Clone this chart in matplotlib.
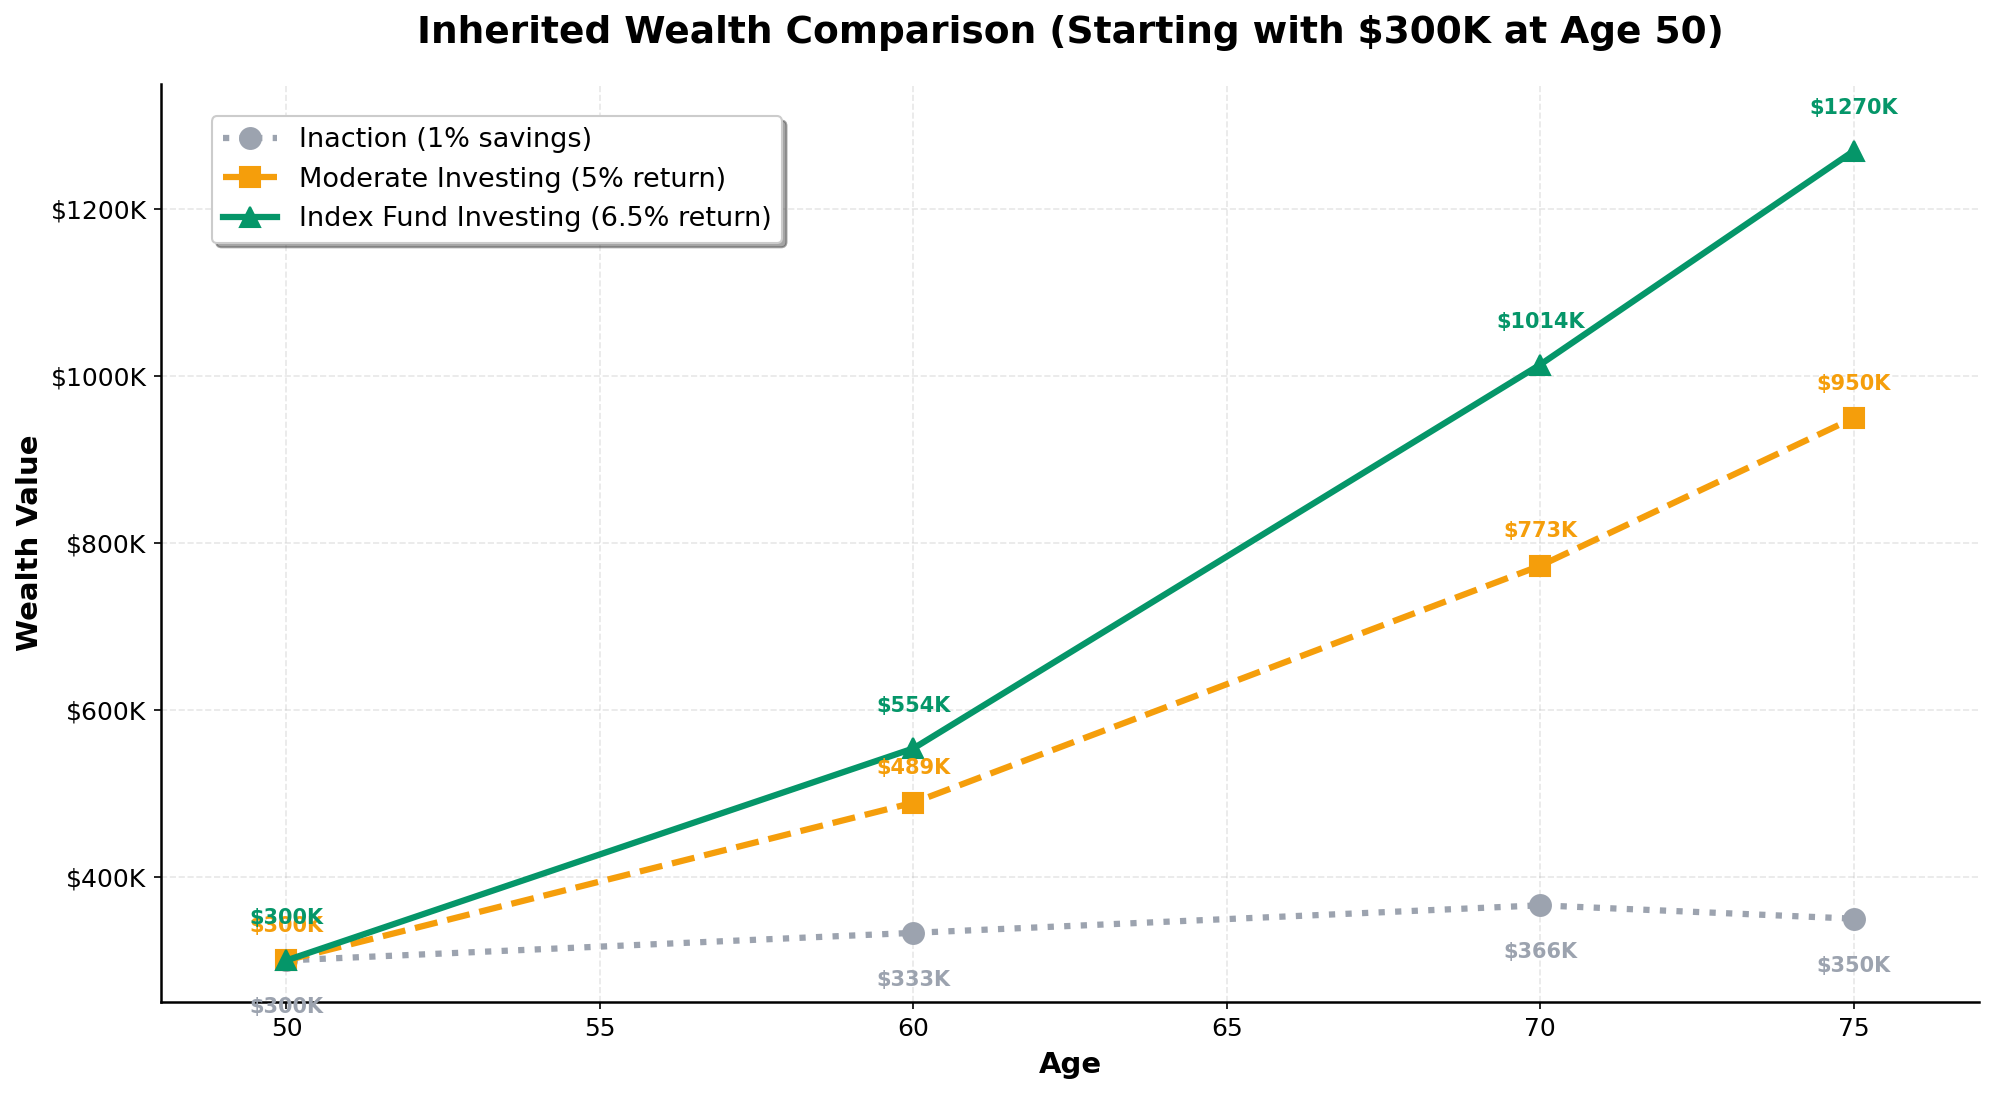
import matplotlib
matplotlib.use("Agg")
import matplotlib.pyplot as plt

ages = [50, 60, 70, 75]
inaction = [300, 333, 366, 350]
moderate = [300, 489, 773, 950]
index_fund = [300, 554, 1014, 1270]
labels = ["Inaction (1% savings)", "Moderate Investing (5% return)", "Index Fund Investing (6.5% return)"]

c_gray = "#9CA3AF"
c_orange = "#F59E0B"
c_green = "#059669"

fig = plt.figure(figsize=(1994/150, 1094/150), dpi=150)
ax = fig.add_axes([0.0808, 0.084, 0.9117, 0.839])

ax.plot(ages, inaction, linestyle=":", color=c_gray, lw=3, marker="o", markersize=10, label=labels[0])
ax.plot(ages, moderate, linestyle="--", color=c_orange, lw=3, marker="s", markersize=10, label=labels[1])
ax.plot(ages, index_fund, linestyle="-", color=c_green, lw=3, marker="^", markersize=10, label=labels[2])

for x, y in zip(ages, inaction):
    ax.annotate(f"${y}K", (x, y), textcoords="offset points", xytext=(0, -22.5),
                ha="center", va="center", fontsize=10, fontweight="bold", color=c_gray)
for x, y in zip(ages, moderate):
    ax.annotate(f"${y}K", (x, y), textcoords="offset points", xytext=(0, 16.5),
                ha="center", va="center", fontsize=10, fontweight="bold", color=c_orange)
for x, y in zip(ages, index_fund):
    ax.annotate(f"${y}K", (x, y), textcoords="offset points", xytext=(0, 20.5),
                ha="center", va="center", fontsize=10, fontweight="bold", color=c_green)

ax.set_xlim(48, 77)
ax.set_ylim(250, 1350)
ax.set_xticks([50, 55, 60, 65, 70, 75])
ax.set_yticks([400, 600, 800, 1000, 1200])
ax.set_yticklabels([f"${v}K" for v in [400, 600, 800, 1000, 1200]])
ax.tick_params(labelsize=12)

ax.set_title("Inherited Wealth Comparison (Starting with $300K at Age 50)", fontsize=18, fontweight="bold", pad=20)
ax.set_xlabel("Age", fontsize=14, fontweight="bold", labelpad=5)
ax.set_ylabel("Wealth Value", fontsize=14, fontweight="bold", labelpad=3)

ax.grid(True, linestyle="--", alpha=0.3)
ax.spines["top"].set_visible(False)
ax.spines["right"].set_visible(False)
for s in ["left", "bottom"]:
    ax.spines[s].set_linewidth(1.2)

leg = ax.legend(loc="upper left", bbox_to_anchor=(0.028, 0.965), borderaxespad=0,
                fontsize=13, frameon=True, shadow=True, fancybox=True)
leg.get_frame().set_alpha(1.0)

fig.savefig("out.png", dpi=150)
